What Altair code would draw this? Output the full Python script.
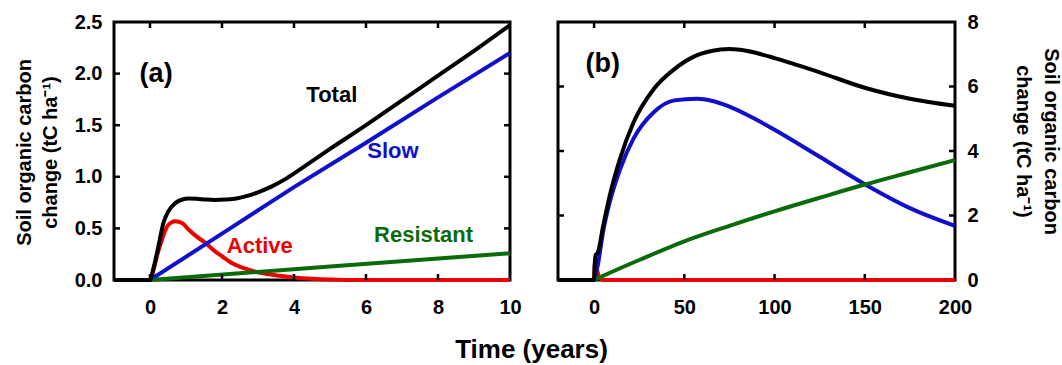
import altair as alt
import pandas as pd

FONT = "Liberation Sans"

# ---------------- Panel (a): 0-10 years ----------------
A_TOTAL_X = [-1, 0, 0.1, 0.23, 0.37, 0.5, 0.7, 0.9, 1.07, 1.3, 1.54, 1.8, 2.09, 2.4, 2.65, 3.0, 3.4, 3.77, 4.33, 5, 6, 7, 8, 9, 10]
A_TOTAL_Y = [0, 0, 0.12, 0.32, 0.55, 0.66, 0.745, 0.78, 0.79, 0.787, 0.78, 0.776, 0.78, 0.79, 0.81, 0.85, 0.91, 0.98, 1.11, 1.27, 1.5, 1.74, 1.98, 2.22, 2.47]

A_ACTIVE_X = [-1, 0, 0.1, 0.2, 0.33, 0.5, 0.7, 0.9, 1.07, 1.3, 1.54, 1.8, 2.0, 2.3, 2.65, 3.0, 3.4, 4.0, 4.5, 5, 6, 10]
A_ACTIVE_Y = [0, 0, 0.1, 0.24, 0.39, 0.53, 0.57, 0.55, 0.49, 0.42, 0.36, 0.28, 0.23, 0.16, 0.11, 0.075, 0.05, 0.025, 0.012, 0.005, 0, 0]

A_SLOW_X = [-1, 0, 2, 4, 6, 8, 10]
A_SLOW_Y = [0, 0, 0.45, 0.9, 1.33, 1.77, 2.2]

A_RES_X = [-1, 0, 5, 10]
A_RES_Y = [0, 0, 0.13, 0.26]

A_LABEL_TEXT = ["Total", "Slow", "Active", "Resistant"]
A_LABEL_X = [5.05, 6.75, 3.05, 7.6]
A_LABEL_Y = [1.79, 1.25, 0.33, 0.44]

A_X_TICKS = [0, 2, 4, 6, 8, 10]
A_X_INNER = [0, 2, 4, 6, 8]
A_Y_TICKS = [0, 0.5, 1.0, 1.5, 2.0, 2.5]
A_Y_INNER = [0.5, 1.0, 1.5, 2.0]

# ---------------- Panel (b): 0-200 years ----------------
B_TOTAL_X = [-20, 0, 0.3, 1, 2, 5, 8.6, 14.3, 21.9, 33.2, 44.5, 55, 65, 75, 85, 100, 125, 150, 175, 200]
B_TOTAL_Y = [0, 0, 0.45, 0.79, 0.84, 1.67, 2.6, 3.75, 4.89, 5.93, 6.54, 6.92, 7.1, 7.16, 7.1, 6.88, 6.44, 5.96, 5.62, 5.40]

B_SLOW_X = [-20, 0, 1, 2, 5, 8.6, 14.3, 21.9, 33.2, 44.5, 57, 65, 74, 89, 100, 125, 150, 175, 200]
B_SLOW_Y = [0, 0, 0.22, 0.45, 1.5, 2.4, 3.42, 4.39, 5.21, 5.57, 5.62, 5.56, 5.40, 5.0, 4.66, 3.82, 2.97, 2.23, 1.68]

B_RES_X = [-20, 0, 1, 10, 25, 50, 75, 100, 125, 150, 175, 200]
B_RES_Y = [0, 0, 0.026, 0.255, 0.62, 1.2, 1.68, 2.13, 2.55, 2.96, 3.34, 3.72]

B_ACTIVE_X = [-20, 0, 0.5, 1, 2, 3, 5, 200]
B_ACTIVE_Y = [0, 0, 0.53, 0.49, 0.23, 0.07, 0, 0]

B_X_TICKS = [0, 50, 100, 150, 200]
B_X_INNER = [0, 50, 100, 150]
B_Y_TICKS = [0, 2, 4, 6, 8]
B_Y_INNER = [2, 4, 6]

SERIES = ["Total", "Slow", "Active", "Resistant"]
COLORS = ["#000000", "#1010cc", "#ee0000", "#0a6b0a"]
COLOR_OF = dict(zip(SERIES, COLORS))

Y_TITLE = ["Soil organic carbon", "change (tC ha\u207b\u00b9)"]

WA, HA = 396, 258
WB, HB = 397, 258
TL = 6


def line(xs, ys, name, sx, sy, interp, ax, ay):
    df = pd.DataFrame({"x": xs, "y": ys})
    return alt.Chart(df).mark_line(
        color=COLOR_OF[name], strokeWidth=4, interpolate=interp
    ).encode(
        x=alt.X("x:Q", scale=sx, axis=ax),
        y=alt.Y("y:Q", scale=sy, axis=ay),
    )


def ticks(xin, yin, sx, sy, ax, ay, W, H):
    dx = pd.DataFrame({"v": xin})
    dy = pd.DataFrame({"v": yin})
    r = dict(color="black", strokeWidth=2.5)
    return [
        alt.Chart(dx).mark_rule(**r).encode(
            x=alt.X("v:Q", scale=sx, axis=ax), y=alt.value(H), y2=alt.value(H - TL)),
        alt.Chart(dx).mark_rule(**r).encode(
            x=alt.X("v:Q", scale=sx, axis=ax), y=alt.value(0), y2=alt.value(TL)),
        alt.Chart(dy).mark_rule(**r).encode(
            y=alt.Y("v:Q", scale=sy, axis=ay), x=alt.value(0), x2=alt.value(TL)),
        alt.Chart(dy).mark_rule(**r).encode(
            y=alt.Y("v:Q", scale=sy, axis=ay), x=alt.value(W), x2=alt.value(W - TL)),
    ]


def tag(xv, yv, t, sx, sy, ax, ay):
    return alt.Chart(pd.DataFrame({"x": [xv], "y": [yv], "t": [t]})).mark_text(
        font=FONT, fontWeight="bold", fontSize=27, color="black", align="center", baseline="middle"
    ).encode(x=alt.X("x:Q", scale=sx, axis=ax), y=alt.Y("y:Q", scale=sy, axis=ay), text="t:N")


# ----- panel a -----
xa = alt.Scale(domain=[-1, 10], nice=False, zero=False)
ya = alt.Scale(domain=[0, 2.5], nice=False)

xa_axis = alt.Axis(values=A_X_TICKS, format="d", labelPadding=17, labelFlush=False,
                   labelOverlap=False, title="Time (years)", titleFontSize=26,
                   titleX=417, titleY=77, titleBaseline="alphabetic", titleAlign="center")
ya_axis = alt.Axis(values=A_Y_TICKS, format=".1f", orient="left", labelPadding=12,
                   labelOverlap=False, title=Y_TITLE, titleFontSize=20, titleAngle=270,
                   titleX=-100, titleY=130, titleBaseline="top", titleAlign="center",
                   titleLineHeight=26)

a_lines = [
    line(A_ACTIVE_X, A_ACTIVE_Y, "Active", xa, ya, "monotone", xa_axis, ya_axis),
    line(A_SLOW_X, A_SLOW_Y, "Slow", xa, ya, "linear", xa_axis, ya_axis),
    line(A_RES_X, A_RES_Y, "Resistant", xa, ya, "linear", xa_axis, ya_axis),
    line(A_TOTAL_X, A_TOTAL_Y, "Total", xa, ya, "monotone", xa_axis, ya_axis),
]

a_labels = alt.Chart(pd.DataFrame({"x": A_LABEL_X, "y": A_LABEL_Y, "t": A_LABEL_TEXT})).mark_text(
    font=FONT, fontWeight="bold", fontSize=22, align="center", baseline="middle"
).encode(
    x=alt.X("x:Q", scale=xa, axis=xa_axis),
    y=alt.Y("y:Q", scale=ya, axis=ya_axis),
    text="t:N",
    color=alt.Color("t:N", scale=alt.Scale(domain=SERIES, range=COLORS), legend=None),
)

panel_a = alt.layer(
    *a_lines, a_labels, tag(0.17, 2.0, "(a)", xa, ya, xa_axis, ya_axis),
    *ticks(A_X_INNER, A_Y_INNER, xa, ya, xa_axis, ya_axis, WA, HA)
).properties(width=WA, height=HA)

# ----- panel b -----
xb = alt.Scale(domain=[-20, 200], nice=False, zero=False)
yb = alt.Scale(domain=[0, 8], nice=False)

xb_axis = alt.Axis(values=B_X_TICKS, format="d", labelPadding=17, labelFlush=False,
                   labelOverlap=False, title=None)
yb_axis = alt.Axis(values=B_Y_TICKS, format="d", orient="right", labelPadding=12,
                   labelOverlap=False, title=Y_TITLE, titleFontSize=20, titleAngle=90,
                   titleX=105, titleY=119, titleBaseline="top", titleAlign="center",
                   titleLineHeight=28)

b_lines = [
    line(B_ACTIVE_X, B_ACTIVE_Y, "Active", xb, yb, "monotone", xb_axis, yb_axis),
    line(B_SLOW_X, B_SLOW_Y, "Slow", xb, yb, "monotone", xb_axis, yb_axis),
    line(B_RES_X, B_RES_Y, "Resistant", xb, yb, "monotone", xb_axis, yb_axis),
    line(B_TOTAL_X, B_TOTAL_Y, "Total", xb, yb, "monotone", xb_axis, yb_axis),
]

panel_b = alt.layer(
    *b_lines, tag(4.8, 6.7, "(b)", xb, yb, xb_axis, yb_axis),
    *ticks(B_X_INNER, B_Y_INNER, xb, yb, xb_axis, yb_axis, WB, HB)
).properties(width=WB, height=HB)

chart = alt.hconcat(panel_a, panel_b, spacing=48, bounds="flush").properties(
    padding={"left": 12, "top": 10, "right": 0, "bottom": 4},
    background="white",
).configure_view(
    stroke="black", strokeWidth=3
).configure_axis(
    grid=False, domain=False, ticks=False,
    labelFont=FONT, labelFontWeight="bold", labelFontSize=20, labelColor="black",
    titleFont=FONT, titleFontWeight="bold", titleColor="black",
)

chart.save("out.html", embed_options={"renderer": "svg", "actions": False})
